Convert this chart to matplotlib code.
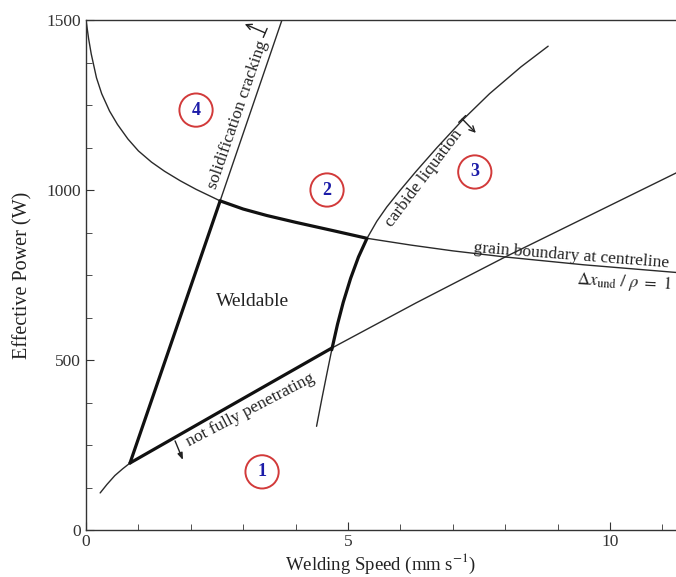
import matplotlib
matplotlib.use('Agg')
import matplotlib.pyplot as plt
from matplotlib.ticker import MultipleLocator

plt.rcParams['font.family'] = ['Liberation Serif', 'DejaVu Serif']
plt.rcParams['mathtext.fontset'] = 'stix'

# boundary curves (welding speed mm/s, effective power W)
grain_x = [0.0, 0.05, 0.1, 0.2, 0.3, 0.45, 0.6, 0.8, 1.0, 1.25, 1.5, 1.8, 2.1, 2.56,
           3.0, 3.45, 4.0, 4.7, 5.36, 6.2, 7.0, 8.0, 9.5, 11.3]
grain_y = [1500, 1445, 1400, 1330, 1283, 1232, 1193, 1150, 1115, 1082, 1055, 1027, 1002, 968,
           944, 925, 905, 881, 858, 838, 821, 803, 780, 757]

solid_x = [0.84, 2.56, 3.74]
solid_y = [197, 968, 1500]

pen_x = [0.27, 0.4, 0.55, 0.7, 0.84, 2.5, 4.69, 6.3, 8.0, 11.3]
pen_y = [109, 134, 160, 180, 197, 343, 535, 668, 803, 1053]

carb_x = [4.40, 4.5, 4.6, 4.69, 4.8, 4.91, 5.05, 5.2, 5.36, 5.55, 5.74, 6.0, 6.3, 6.7,
          7.2, 7.7, 8.3, 8.82]
carb_y = [305, 385, 462, 530, 605, 670, 740, 803, 857, 908, 950, 1000, 1055, 1125,
          1208, 1283, 1362, 1423]

# corners of the weldable window (x limits of the thick segments)
weld_left, weld_mid, weld_low, weld_right = 0.84, 2.56, 4.69, 5.36

# region markers
region_labels = ['1', '2', '3', '4']
region_x = [3.36, 4.6, 7.42, 2.10]
region_y = [171, 1000, 1053, 1235]

fig = plt.figure(figsize=(6.76, 5.77), dpi=100)
ax = fig.add_axes([86 / 676, 47 / 577, 590 / 676, 510 / 577])

thin = dict(color='#2a2a2a', lw=1.0, solid_capstyle='round', solid_joinstyle='round')
thick = dict(color='#111111', lw=2.3, solid_capstyle='round', solid_joinstyle='round')


def seg(xs, ys, lo, hi):
    pts = [(x, y) for x, y in zip(xs, ys) if lo - 1e-9 <= x <= hi + 1e-9]
    return [p[0] for p in pts], [p[1] for p in pts]


for xs, ys, lo, hi in [(grain_x, grain_y, weld_mid, weld_right),
                       (solid_x, solid_y, weld_left, weld_mid),
                       (pen_x, pen_y, weld_left, weld_low),
                       (carb_x, carb_y, weld_low, weld_right)]:
    ax.plot(xs, ys, **thin)
    sx, sy = seg(xs, ys, lo, hi)
    ax.plot(sx, sy, **thick)

ax.set_xlim(0, 11.26)
ax.set_ylim(0, 1500)
ax.spines['right'].set_visible(False)
for s in ['left', 'bottom', 'top']:
    ax.spines[s].set_color('#333333')
    ax.spines[s].set_linewidth(1.0)

ax.xaxis.set_major_locator(MultipleLocator(5))
ax.xaxis.set_minor_locator(MultipleLocator(1))
ax.yaxis.set_major_locator(MultipleLocator(500))
ax.yaxis.set_minor_locator(MultipleLocator(125))
ax.tick_params(which='both', direction='in', top=False, right=False, colors='#333333', labelsize=12.5)
ax.tick_params(which='major', length=6)
ax.tick_params(which='minor', length=4)
ax.tick_params(axis='x', pad=3)

ax.set_xlabel('Welding Speed (mm s$^{-1}$)', fontsize=13.5, color='#222222', labelpad=1)
ax.set_ylabel('Effective Power (W)', fontsize=14.5, color='#222222', labelpad=10)

tc = '#222222'
ax.text(2.90, 1221, 'solidification cracking', rotation=71, rotation_mode='anchor',
        ha='center', va='center', fontsize=12.5, color=tc)
ax.text(6.45, 1035, 'carbide liquation', rotation=53, rotation_mode='anchor',
        ha='center', va='center', fontsize=12.5, color=tc)
ax.text(3.13, 352, 'not fully penetrating', rotation=27.5, rotation_mode='anchor',
        ha='center', va='center', fontsize=12.5, color=tc)
ax.text(9.27, 808, 'grain boundary at centreline', rotation=-4.5, rotation_mode='anchor',
        ha='center', va='center', fontsize=12.5, color=tc)
ax.text(10.27, 727, r'$\Delta x_{\rm und}\ /\ \rho\ =\ 1$', rotation=-3, rotation_mode='anchor',
        ha='center', va='center', fontsize=12.5, color=tc)
ax.text(3.17, 671, 'Weldable', ha='center', va='center', fontsize=14, color=tc)

arr = dict(color='#222222', lw=1.0, shrinkA=0, shrinkB=0)
ax.annotate('', xy=(3.03, 1488), xytext=(3.42, 1462),
            arrowprops=dict(arrowstyle=']->,widthA=0.35,lengthA=0', **arr))
ax.annotate('', xy=(7.44, 1168), xytext=(7.18, 1209),
            arrowprops=dict(arrowstyle=']->,widthA=0.35,lengthA=0', **arr))
ax.annotate('', xy=(1.85, 206), xytext=(1.70, 262),
            arrowprops=dict(arrowstyle='-|>,head_length=0.4,head_width=0.15', **arr))

for lab, x, y in zip(region_labels, region_x, region_y):
    ax.text(x, y, lab, ha='center', va='center', fontsize=13, fontweight='bold', color='#1c1ca8',
            bbox=dict(boxstyle='circle,pad=0.45', fc='white', ec='#d23a3a', lw=1.4))

fig.savefig('out.png', dpi=100)
